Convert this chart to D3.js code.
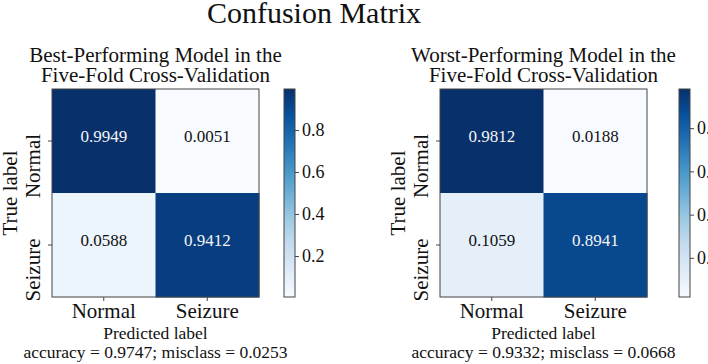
<!DOCTYPE html>
<html>
<head>
<meta charset="utf-8">
<script src="https://cdn.jsdelivr.net/npm/d3@7"></script>
<style>
  html, body { margin: 0; padding: 0; background: #fff; }
  svg { display: block; }
  text { font-family: "Liberation Serif", "Times New Roman", serif; fill: #111; }
</style>
</head>
<body>
<svg id="chart" width="708" height="364"></svg>
<script>
// ---- data ----
const classes = ["Normal", "Seizure"];
const bestValues = [[0.9949, 0.0051], [0.0588, 0.9412]];
const worstValues = [[0.9812, 0.0188], [0.1059, 0.8941]];
const panelTitles = [
  ["Best-Performing Model in the", "Five-Fold Cross-Validation"],
  ["Worst-Performing Model in the", "Five-Fold Cross-Validation"]
];
const accuracyTexts = [
  "accuracy = 0.9747; misclass = 0.0253",
  "accuracy = 0.9332; misclass = 0.0668"
];
const colorbarTicks = [0.2, 0.4, 0.6, 0.8];
const mainTitle = "Confusion Matrix";
const xLabel = "Predicted label";
const yLabel = "True label";

// matplotlib "Blues" stops
const bluesStops = ["#f7fbff", "#deebf7", "#c6dbef", "#9ecae1", "#6baed6", "#4292c6", "#2171b5", "#08519c", "#08306b"];

const FONT = '"Liberation Serif", "Times New Roman", serif';
const svg = d3.select("#chart");

svg.append("text")
  .attr("x", 314).attr("y", 23)
  .attr("text-anchor", "middle")
  .style("font-size", "30px")
  .text(mainTitle);

const defs = svg.append("defs");

const panels = [
  { values: bestValues, left: 52, right: 259, cbLeft: 284, titles: panelTitles[0], acc: accuracyTexts[0] },
  { values: worstValues, left: 440, right: 647, cbLeft: 679, titles: panelTitles[1], acc: accuracyTexts[1] }
];
const mTop = 89, mBottom = 297, cbWidth = 11;

panels.forEach((p, pi) => {
  const flat = p.values.flat();
  const vmin = d3.min(flat), vmax = d3.max(flat);
  const stopDomain = bluesStops.map((_, i) => vmin + (vmax - vmin) * i / (bluesStops.length - 1));
  const color = d3.scaleLinear().domain(stopDomain).range(bluesStops).interpolate(d3.interpolateRgb);

  const x = d3.scaleBand().domain(classes).range([p.left, p.right]);
  const y = d3.scaleBand().domain(classes).range([mTop, mBottom]);
  const cx = (p.left + p.right) / 2;

  // subtitle
  const st = svg.append("text")
    .attr("text-anchor", "middle")
    .style("font-size", "21px");
  st.append("tspan").attr("x", cx).attr("y", 62).text(p.titles[0]);
  st.append("tspan").attr("x", cx).attr("y", 82).text(p.titles[1]);

  // cells
  const cells = [];
  p.values.forEach((row, ri) => row.forEach((v, ci) => cells.push({ r: classes[ri], c: classes[ci], v })));
  const thresh = vmax / 1.5;
  const g = svg.append("g");
  g.selectAll("rect.cell").data(cells).join("rect")
    .attr("class", "cell")
    .attr("x", d => x(d.c)).attr("y", d => y(d.r))
    .attr("width", x.bandwidth() + 0.5).attr("height", y.bandwidth() + 0.5)
    .attr("fill", d => color(d.v));
  g.selectAll("text.val").data(cells).join("text")
    .attr("class", "val")
    .attr("x", d => x(d.c) + x.bandwidth() / 2)
    .attr("y", d => y(d.r) + y.bandwidth() / 2 + 1)
    .attr("text-anchor", "middle")
    .style("font-size", "17px")
    .style("fill", d => d.v > thresh ? "#f4f4f4" : "#111")
    .text(d => d.v.toFixed(4));

  // frame
  svg.append("rect")
    .attr("x", p.left).attr("y", mTop)
    .attr("width", p.right - p.left).attr("height", mBottom - mTop)
    .attr("fill", "none").attr("stroke", "#444").attr("stroke-width", 1);

  // x axis
  const xa = svg.append("g").attr("transform", `translate(0,${mBottom})`)
    .call(d3.axisBottom(x).tickSize(4).tickPadding(2));
  xa.attr("font-family", FONT);
  xa.select(".domain").remove();
  xa.selectAll(".tick line").attr("stroke", "#444");
  xa.selectAll(".tick text").style("font-size", "21px").style("font-family", FONT).attr("fill", "#111");

  // y axis
  const ya = svg.append("g").attr("transform", `translate(${p.left},0)`)
    .call(d3.axisLeft(y).tickSize(4));
  ya.attr("font-family", FONT);
  ya.select(".domain").remove();
  ya.selectAll(".tick line").attr("stroke", "#444");
  ya.selectAll(".tick text")
    .attr("x", null).attr("dy", null)
    .attr("text-anchor", "middle")
    .attr("transform", "translate(-12,25) rotate(-90)")
    .style("font-size", "21px").style("font-family", FONT).attr("fill", "#111");

  // axis labels
  svg.append("text")
    .attr("x", cx).attr("y", 339)
    .attr("text-anchor", "middle")
    .style("font-size", "17.5px")
    .text(xLabel);
  svg.append("text")
    .attr("x", cx).attr("y", 358)
    .attr("text-anchor", "middle")
    .style("font-size", "17.5px")
    .text(p.acc);
  svg.append("text")
    .attr("transform", `translate(${p.left - 35},${(mTop + mBottom) / 2}) rotate(-90)`)
    .attr("text-anchor", "middle")
    .style("font-size", "21px")
    .text(yLabel);

  // colorbar
  const gradId = "cbgrad" + pi;
  const grad = defs.append("linearGradient").attr("id", gradId)
    .attr("x1", 0).attr("y1", 1).attr("x2", 0).attr("y2", 0);
  bluesStops.forEach((c, i) => grad.append("stop")
    .attr("offset", i / (bluesStops.length - 1)).attr("stop-color", c));
  const cScale = d3.scaleLinear().domain([vmin, vmax]).range([mBottom, mTop]);
  svg.append("rect")
    .attr("x", p.cbLeft).attr("y", mTop)
    .attr("width", cbWidth).attr("height", mBottom - mTop)
    .attr("fill", `url(#${gradId})`)
    .attr("stroke", "#444").attr("stroke-width", 1);
  const ca = svg.append("g").attr("transform", `translate(${p.cbLeft + cbWidth},0)`)
    .call(d3.axisRight(cScale).tickValues(colorbarTicks).tickSize(4).tickPadding(3).tickFormat(d3.format(".1f")));
  ca.attr("font-family", FONT);
  ca.select(".domain").remove();
  ca.selectAll(".tick line").attr("stroke", "#444");
  ca.selectAll(".tick text").style("font-size", "18px").style("font-family", FONT).attr("fill", "#111");
});
</script>
</body>
</html>
